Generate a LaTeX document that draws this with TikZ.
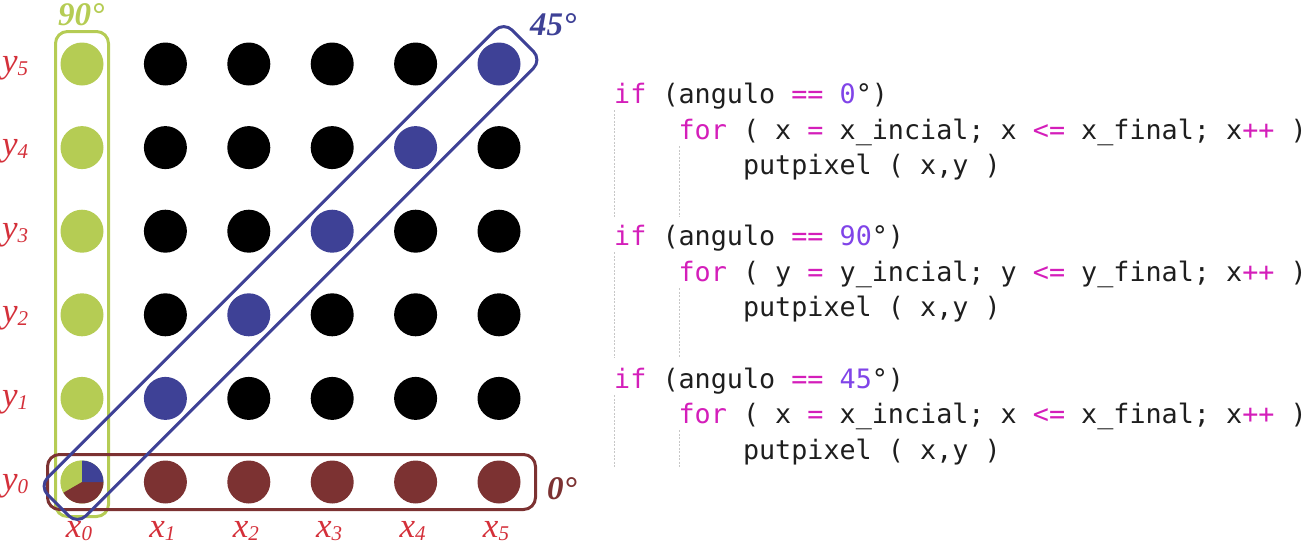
\documentclass[tikz,border=0pt]{standalone}
\usepackage{fontspec}
\setmonofont{DejaVu Sans Mono}
\newfontfamily\labfont{Liberation Serif}
\definecolor{gr}{RGB}{181,204,84}
\definecolor{bl}{RGB}{62,65,150}
\definecolor{mr}{RGB}{124,50,50}
\definecolor{lr}{RGB}{212,48,58}
\definecolor{kw}{RGB}{212,30,186}
\definecolor{num}{RGB}{128,68,232}
\definecolor{tx}{RGB}{30,30,30}
\newcommand{\kw}[1]{\textcolor{kw}{#1}}
\newcommand{\nm}[1]{\textcolor{num}{#1}}
\newcommand{\sbs}[1]{\raisebox{-3pt}{\fontsize{21}{24}\selectfont #1}}
\begin{document}
\begin{tikzpicture}[x=1pt,y=-1pt,
  dot/.style={circle, inner sep=0pt, minimum size=43pt},
  lab/.style={text=lr, font=\labfont\itshape\fontsize{35}{40}\selectfont, inner sep=0pt},
  ang/.style={font=\labfont\bfseries\itshape\fontsize{33}{38}\selectfont, inner sep=0pt, anchor=base west},
  code/.style={font=\ttfamily\fontsize{26.75}{32}\selectfont, text=tx, inner sep=0pt, anchor=base west},
  guide/.style={draw=black!22, line width=1pt, dash pattern=on 2pt off 1.5pt},
  box/.style={line width=3pt, rounded corners=12pt}]
\useasboundingbox (0,0) rectangle (1312,544);
% dots
\foreach \i in {0,...,5}{
  \foreach \j in {0,...,5}{
    \ifnum\i=0 \def\c{gr}\else\ifnum\j=0 \def\c{mr}\else\ifnum\i=\j \def\c{bl}\else\def\c{black}\fi\fi\fi
    \node[dot, fill=\c] (d\i\j) at ({82+83.4*\i},{482-83.6*\j}) {};
  }
}
% pie at origin
\begin{scope}[shift={(d00.center)}, yscale=-1]
  \fill[gr] (0,0) -- (90:21.5) arc[start angle=90, end angle=210, radius=21.5] -- cycle;
  \fill[mr] (0,0) -- (210:21.5) arc[start angle=210, end angle=360, radius=21.5] -- cycle;
  \fill[bl] (0,0) -- (0:21.5) arc[start angle=0, end angle=90, radius=21.5] -- cycle;
\end{scope}
% boxes
\draw[box, draw=gr] (55.5,31.5) rectangle (108.5,516.5);
\draw[box, draw=mr] (47.5,454.5) rectangle (535.5,509.5);
\node[draw=bl, line width=3pt, rounded corners=12pt, rotate=45, minimum width=657pt, minimum height=54pt, inner sep=0pt] (b45) at (290.5,273) {};
% angle labels
\node[ang, text=gr] (a90) at (58,25) {90°};
\node[ang, text=bl] (a45) at (530,35) {45°};
\node[ang, text=mr] (a0) at (547,499) {0°};
% axis labels
\foreach \j in {0,...,5}{
  \node[lab, anchor=base west] (ly\j) at (2,{482-83.6*\j+8}) {y\sbs{\j}};
}
\foreach \i in {0,...,5}{
  \node[lab, anchor=base] (lx\i) at ({79+83.4*\i},537) {x\sbs{\i}};
}
% indent guides
\draw[guide] (614,110) -- (614,217);
\draw[guide] (679,146) -- (679,217);
\draw[guide] (614,252) -- (614,358);
\draw[guide] (679,288) -- (679,358);
\draw[guide] (614,395) -- (614,467);
\draw[guide] (679,430) -- (679,467);
% code
\node[code] (c11) at (614,103) {\kw{if} (angulo \kw{==} \nm{0}°)};
\node[code] (c12) at (678.4,139) {\kw{for} ( x \kw{=} x\_incial; x \kw{<=} x\_final; x\kw{++} )};
\node[code] (c13) at (742.8,174) {putpixel ( x,y )};
\node[code] (c21) at (614,245.5) {\kw{if} (angulo \kw{==} \nm{90}°)};
\node[code] (c22) at (678.4,281) {\kw{for} ( y \kw{=} y\_incial; y \kw{<=} y\_final; x\kw{++} )};
\node[code] (c23) at (742.8,316.5) {putpixel ( x,y )};
\node[code] (c31) at (614,388) {\kw{if} (angulo \kw{==} \nm{45}°)};
\node[code] (c32) at (678.4,423.5) {\kw{for} ( x \kw{=} x\_incial; x \kw{<=} x\_final; x\kw{++} )};
\node[code] (c33) at (742.8,459) {putpixel ( x,y )};
\end{tikzpicture}
\end{document}
